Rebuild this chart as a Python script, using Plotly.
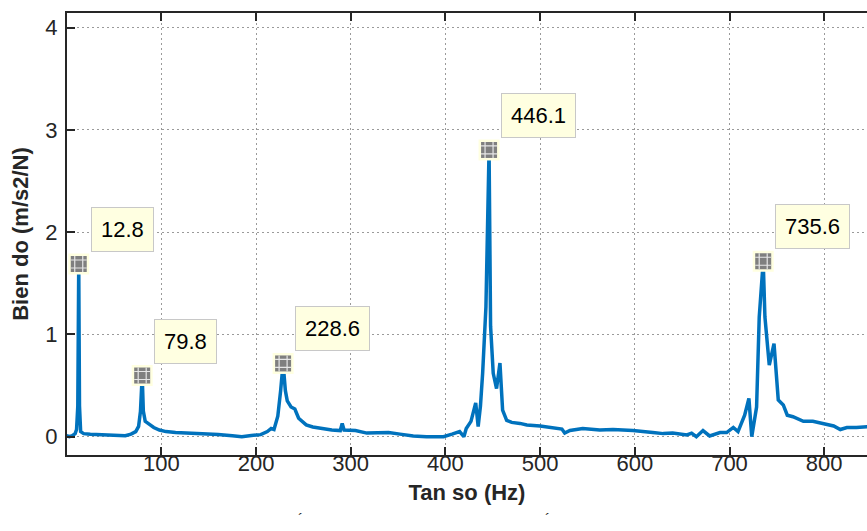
import plotly.graph_objects as go

# ---- data ----
freq = [0, 3, 6, 9, 10.5, 11.8, 12.8, 13.6, 14.8, 18, 25, 35, 45, 55, 62, 68, 73, 76, 78, 79.8,
        81, 83, 87, 92, 98, 105, 115, 130, 145, 160, 175, 185, 195, 205, 212, 216, 219, 223, 226,
        228.6, 231, 233, 237, 241, 245, 253, 260, 268, 280, 289, 291, 293, 305, 317, 330, 340,
        352, 366, 380, 398, 407, 415, 419.5, 422, 427, 430, 432, 434.6, 437, 439.3, 442.8, 446.1,
        447.7, 450.5, 454, 457.6, 459, 460.4, 464.7, 470, 478.7, 486, 500, 510, 517, 523, 526,
        531.5, 545, 563, 577, 598, 619, 630, 640, 655, 660, 665, 672, 679, 690, 697, 704, 709,
        716, 720.5, 723.5, 728.6, 731.4, 735.6, 737.4, 742, 747, 751.5, 756.8, 761, 767, 778,
        788, 799, 810, 817, 824, 834, 845, 850]
amp = [0.01, 0.0, 0.01, 0.03, 0.07, 0.3, 1.688, 0.3, 0.05, 0.03, 0.025, 0.02, 0.015, 0.005, 0.01,
       0.025, 0.05, 0.1, 0.25, 0.598, 0.25, 0.15, 0.12, 0.09, 0.065, 0.05, 0.04, 0.035, 0.03,
       0.022, 0.01, 0.0, 0.012, 0.02, 0.05, 0.08, 0.07, 0.2, 0.45, 0.716, 0.45, 0.35, 0.29, 0.27,
       0.18, 0.115, 0.095, 0.08, 0.065, 0.06, 0.13, 0.065, 0.06, 0.035, 0.04, 0.04, 0.025, 0.007,
       0.0, 0.0, 0.025, 0.05, 0.0, 0.08, 0.15, 0.25, 0.33, 0.1, 0.3, 0.62, 1.27, 2.803, 1.08,
       0.62, 0.47, 0.72, 0.45, 0.26, 0.16, 0.14, 0.13, 0.115, 0.105, 0.09, 0.08, 0.075, 0.035,
       0.06, 0.08, 0.065, 0.07, 0.06, 0.04, 0.03, 0.035, 0.017, 0.035, 0.0, 0.06, 0.007, 0.04,
       0.04, 0.09, 0.05, 0.21, 0.375, 0.0, 0.29, 1.17, 1.715, 1.17, 0.7, 0.91, 0.36, 0.31, 0.21,
       0.195, 0.15, 0.15, 0.13, 0.105, 0.07, 0.09, 0.09, 0.1, 0.1]

peak_freq = [12.8, 79.8, 228.6, 446.1, 735.6]
peak_amp = [1.688, 0.598, 0.716, 2.803, 1.715]

x_ticks = [100, 200, 300, 400, 500, 600, 700, 800]
y_ticks = [0, 1, 2, 3, 4]

FONT = "Liberation Sans, Arial, Helvetica, sans-serif"
AX = "#262626"

fig = go.Figure()
fig.add_trace(go.Scatter(x=freq, y=amp, mode="lines",
                         line=dict(color="#0072BD", width=3.5),
                         hoverinfo="skip", showlegend=False))
# datatip markers (layered to mimic the checkered square)
fig.add_trace(go.Scatter(x=peak_freq, y=peak_amp, mode="markers",
                         marker=dict(symbol="square", size=21, color="#FFFFE0", line=dict(width=0)),
                         showlegend=False, hoverinfo="skip"))
fig.add_trace(go.Scatter(x=peak_freq, y=peak_amp, mode="markers",
                         marker=dict(symbol="square", size=16, color="#7f7f7f", line=dict(width=0)),
                         showlegend=False, hoverinfo="skip"))
fig.add_trace(go.Scatter(x=peak_freq, y=peak_amp, mode="markers",
                         marker=dict(symbol="hash-open", size=16, color="#e6e6e6",
                                     line=dict(width=1.2, color="#e6e6e6")),
                         showlegend=False, hoverinfo="skip"))

for f, a in zip(peak_freq, peak_amp):
    fig.add_annotation(x=f, y=a, xref="x", yref="y", text=f"{f:.1f}", showarrow=False,
                       xanchor="left", yanchor="bottom", xshift=12, yshift=12,
                       font=dict(family=FONT, size=22, color="black"),
                       bgcolor="#FFFFE1", bordercolor="#c8c8c8", borderwidth=1, borderpad=9)

# small accent marks below the x title
for px in [300, 547]:
    fig.add_annotation(x=(px - 67) / 800, y=(455 - 508) / 442, xref="paper", yref="paper",
                       text="´", showarrow=False, xanchor="center", yanchor="top",
                       font=dict(family=FONT, size=15, color=AX))

fig.update_layout(
    width=867, height=531,
    margin=dict(l=67, r=0, t=13, b=76, autoexpand=False),
    paper_bgcolor="white", plot_bgcolor="white",
    font=dict(family=FONT, size=22, color=AX),
    xaxis=dict(range=[0.4, 845.2], tickvals=x_ticks, ticks="inside", ticklen=8, tickwidth=2,
               tickcolor=AX, showline=True, linewidth=2, linecolor=AX, mirror="ticks",
               showgrid=True, gridcolor="#9a9a9a", gridwidth=1, griddash="2px,3px",
               zeroline=False, tickfont=dict(size=22, color=AX), automargin=False,
               ticklabelstandoff=-12,
               title=dict(text="Tan so (Hz)", standoff=9,
                          font=dict(size=22, color=AX, weight="bold"))),
    yaxis=dict(range=[-0.179, 4.142], tickvals=y_ticks, ticks="inside", ticklen=8, tickwidth=2,
               tickcolor=AX, showline=True, linewidth=2, linecolor=AX, mirror=False,
               showgrid=True, gridcolor="#9a9a9a", gridwidth=1, griddash="2px,3px",
               zeroline=False, tickfont=dict(size=22, color=AX), ticklabelstandoff=3,
               automargin=False,
               title=dict(text="Bien do (m/s2/N)", standoff=11,
                          font=dict(size=22, color=AX, weight="bold"))),
)

fig.write_html("out.html", config={"displayModeBar": False},
               post_script="document.body.style.margin='0';")
